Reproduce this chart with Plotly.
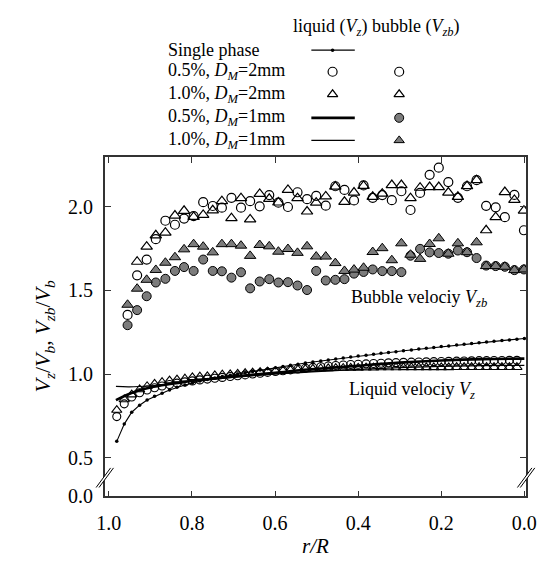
import plotly.graph_objects as go

# ---------------- data ----------------
# bubble velocity Vzb/Vb
R_BUBBLE = [0.955, 0.932, 0.909, 0.887, 0.864, 0.841, 0.819, 0.796, 0.773, 0.750,
            0.728, 0.705, 0.682, 0.660, 0.637, 0.614, 0.592, 0.569, 0.546, 0.523,
            0.501, 0.478, 0.455, 0.433, 0.410, 0.387, 0.365, 0.342, 0.319, 0.296,
            0.274, 0.251, 0.228, 0.206, 0.183, 0.160, 0.138, 0.115, 0.092, 0.069,
            0.047, 0.024, 0.001]
VZB_05_2MM = [1.353, 1.590, 1.684, 1.806, 1.916, 1.892, 1.929, 1.943, 2.027, 2.004,
              1.994, 2.053, 1.994, 2.033, 2.002, 2.069, 2.024, 1.998, 2.086, 2.045,
              2.065, 2.006, 2.122, 2.100, 2.037, 2.127, 2.053, 2.069, 2.039, 2.092,
              1.980, 2.082, 2.190, 2.233, 2.147, 2.053, 2.122, 2.158, 2.005, 1.996,
              1.937, 2.070, 1.859]
VZB_10_2MM = [None, 1.671, 1.761, 1.829, 1.845, 1.947, 1.975, 1.939, 1.951, 1.978,
              2.033, 1.931, 2.051, 1.924, 2.076, 2.047, 2.025, 2.100, 2.051, 1.971,
              2.024, 2.061, 2.120, 2.029, 2.084, 2.124, 2.059, 2.078, 2.129, 2.129,
              2.051, 2.113, 2.117, 2.117, 2.084, 2.059, 2.123, 2.158, 1.859, 1.937,
              2.087, 2.040, 1.976]
VZB_05_1MM = [1.292, 1.382, 1.465, 1.547, 1.569, 1.616, 1.639, 1.616, 1.684, 1.616,
              1.614, 1.576, 1.608, 1.512, 1.553, 1.567, 1.547, 1.549, 1.529, 1.502,
              1.616, 1.559, 1.563, 1.567, 1.600, 1.610, 1.625, 1.615, 1.615, 1.609,
              1.707, 1.748, 1.727, 1.723, 1.719, 1.738, 1.728, 1.693, 1.648, 1.645,
              1.641, 1.621, 1.625]
VZB_10_1MM = [1.414, 1.510, 1.563, 1.622, 1.665, 1.698, 1.745, 1.776, 1.761, 1.727,
              1.776, 1.776, 1.767, 1.706, 1.771, 1.763, 1.731, 1.747, 1.724, 1.763,
              1.702, 1.702, 1.663, 1.616, 1.624, 1.635, 1.729, 1.752, 1.680, 1.781,
              1.713, 1.688, 1.777, 1.811, 1.719, 1.781, 1.728, 1.787, 1.645, 1.645,
              1.641, 1.621, 1.625]

# liquid velocity Vz/Vb
R_LIQUID = [0.981, 0.963, 0.945, 0.926, 0.908, 0.890, 0.872, 0.854, 0.836, 0.817,
            0.799, 0.781, 0.763, 0.745, 0.727, 0.708, 0.690, 0.672, 0.654, 0.636,
            0.618, 0.599, 0.581, 0.563, 0.545, 0.527, 0.509, 0.490, 0.472, 0.454,
            0.436, 0.418, 0.400, 0.381, 0.363, 0.345, 0.327, 0.309, 0.291, 0.272,
            0.254, 0.236, 0.218, 0.200, 0.182, 0.163, 0.145, 0.127, 0.109, 0.091,
            0.073, 0.054, 0.036, 0.018, 0.000]
VZ_SINGLE = [0.598, 0.701, 0.772, 0.814, 0.845, 0.867, 0.886, 0.905, 0.921, 0.935,
             0.947, 0.958, 0.968, 0.977, 0.985, 0.993, 1.000, 1.008, 1.016, 1.024,
             1.031, 1.038, 1.045, 1.052, 1.059, 1.066, 1.072, 1.078, 1.084, 1.090,
             1.096, 1.102, 1.108, 1.113, 1.118, 1.124, 1.129, 1.134, 1.139, 1.144,
             1.149, 1.154, 1.159, 1.164, 1.168, 1.173, 1.178, 1.183, 1.187, 1.192,
             1.196, 1.200, 1.204, 1.208, 1.212]
VZ_05_2MM = [0.746, 0.822, 0.863, 0.888, 0.905, 0.918, 0.929, 0.938, 0.946, 0.953,
             0.959, 0.965, 0.970, 0.975, 0.980, 0.985, 0.990, 0.995, 1.000, 1.005,
             1.010, 1.015, 1.020, 1.025, 1.030, 1.035, 1.040, 1.044, 1.048, 1.051,
             1.054, 1.057, 1.059, 1.061, 1.063, 1.065, 1.067, 1.068, 1.070, 1.071,
             1.072, 1.073, 1.074, 1.075, 1.076, 1.077, 1.078, 1.079, 1.080, 1.080,
             1.081, 1.081, 1.082, 1.082]
VZ_10_2MM = [0.785, 0.848, 0.877, 0.908, 0.927, 0.941, 0.951, 0.961, 0.967, 0.972,
             0.980, 0.984, 0.986, 0.992, 0.996, 0.998, 1.001, 1.005, 1.008, 1.011,
             1.014, 1.017, 1.020, 1.023, 1.026, 1.029, 1.031, 1.033, 1.034, 1.035,
             1.036, 1.037, 1.037, 1.038, 1.038, 1.039, 1.039, 1.039, 1.040, 1.040,
             1.040, 1.040, 1.040, 1.040, 1.040, 1.041, 1.041, 1.041, 1.041, 1.041,
             1.041, 1.041, 1.041, 1.041]
R_LINE_05_1MM = [0.983, 0.960, 0.930, 0.900, 0.860, 0.820, 0.780, 0.700, 0.600, 0.520,
                 0.400, 0.300, 0.200, 0.100, 0.000]
VZ_05_1MM = [0.844, 0.872, 0.900, 0.920, 0.938, 0.952, 0.964, 0.985, 1.008, 1.027,
             1.050, 1.068, 1.081, 1.089, 1.092]
R_LINE_10_1MM = [0.983, 0.950, 0.900, 0.850, 0.800, 0.700, 0.600, 0.500, 0.400, 0.300,
                 0.200, 0.100, 0.000]
VZ_10_1MM = [0.926, 0.924, 0.930, 0.942, 0.957, 0.980, 1.000, 1.015, 1.028, 1.038,
             1.046, 1.050, 1.052]

X_TICKS = [1.0, 0.8, 0.6, 0.4, 0.2, 0.0]
X_TICKTEXT = ["1.0", "0.8", "0.6", "0.4", "0.2", "0.0"]
Y_FLOOR = 0.2695            # broken axis: bottom of the frame stands for 0.0
Y_TOP = 2.2964
Y_TICKS = [Y_FLOOR, 0.5, 1.0, 1.5, 2.0]
Y_TICKTEXT = ["0.0", "0.5", "1.0", "1.5", "2.0"]

LEGEND_LABELS = ["Single phase",
                 "0.5%, <i>D<sub>M</sub></i>=2mm",
                 "1.0%, <i>D<sub>M</sub></i>=2mm",
                 "0.5%, <i>D<sub>M</sub></i>=1mm",
                 "1.0%, <i>D<sub>M</sub></i>=1mm"]

# ---------------- geometry / styles ----------------
W, H = 546, 567
L, R, T, B = 92, 528.5, 152, 498
FONT = "Liberation Serif"
AX = "#333333"
GRAY = "#7c7c7c"

open_circle = dict(symbol="circle-open", size=9, color="black", line=dict(width=1.2, color="black"))
open_tri = dict(symbol="triangle-up-open", size=10, color="black", line=dict(width=1.2, color="black"))
gray_circle = dict(symbol="circle", size=9, color=GRAY, line=dict(width=1, color="black"))
gray_tri = dict(symbol="triangle-up", size=10, color=GRAY, line=dict(width=1, color="black"))
liq_circle = dict(symbol="circle-open", size=8, color="black", line=dict(width=1.1, color="black"))
liq_tri = dict(symbol="triangle-up-open", size=9, color="black", line=dict(width=1.1, color="black"))
dot = dict(symbol="circle", size=3.5, color="black")

fig = go.Figure()

# liquid velocity
fig.add_trace(go.Scatter(x=R_LIQUID[:len(VZ_10_2MM)], y=VZ_10_2MM, mode="markers", marker=liq_tri))
fig.add_trace(go.Scatter(x=R_LIQUID[:len(VZ_05_2MM)], y=VZ_05_2MM, mode="markers", marker=liq_circle))
fig.add_trace(go.Scatter(x=R_LINE_10_1MM, y=VZ_10_1MM, mode="lines",
                         line=dict(color="black", width=1.2, shape="spline")))
fig.add_trace(go.Scatter(x=R_LINE_05_1MM, y=VZ_05_1MM, mode="lines",
                         line=dict(color="black", width=2.6, shape="spline")))
fig.add_trace(go.Scatter(x=R_LIQUID, y=VZ_SINGLE, mode="lines+markers",
                         line=dict(color="black", width=1.1), marker=dot))

# bubble velocity
fig.add_trace(go.Scatter(x=R_BUBBLE, y=VZB_05_2MM, mode="markers", marker=open_circle))
fig.add_trace(go.Scatter(x=R_BUBBLE, y=VZB_10_2MM, mode="markers", marker=open_tri))
fig.add_trace(go.Scatter(x=R_BUBBLE, y=VZB_05_1MM, mode="markers", marker=gray_circle))
fig.add_trace(go.Scatter(x=R_BUBBLE, y=VZB_10_1MM, mode="markers", marker=gray_tri))

# ---------------- custom legend (pixel overlay axes x2/y2) ----------------
ROW_Y = [43, 65, 88, 112, 135]
LIQ_X, BUB_X = 328, 397
LINE_X0, LINE_X1 = 306, 351
lk = dict(xaxis="x2", yaxis="y2", hoverinfo="skip")
fig.add_trace(go.Scatter(x=[LINE_X0, LINE_X1], y=[ROW_Y[0]] * 2, mode="lines",
                         line=dict(color="black", width=1.1), **lk))
fig.add_trace(go.Scatter(x=[LIQ_X], y=[ROW_Y[0]], mode="markers", marker=dot, **lk))
fig.add_trace(go.Scatter(x=[LIQ_X, BUB_X], y=[ROW_Y[1]] * 2, mode="markers", marker=open_circle, **lk))
fig.add_trace(go.Scatter(x=[LIQ_X, BUB_X], y=[ROW_Y[2]] * 2, mode="markers",
                         marker=dict(open_tri, size=9), **lk))
fig.add_trace(go.Scatter(x=[LINE_X0, LINE_X1], y=[ROW_Y[3]] * 2, mode="lines",
                         line=dict(color="black", width=2.6), **lk))
fig.add_trace(go.Scatter(x=[BUB_X], y=[ROW_Y[3]], mode="markers", marker=gray_circle, **lk))
fig.add_trace(go.Scatter(x=[LINE_X0, LINE_X1], y=[ROW_Y[4]] * 2, mode="lines",
                         line=dict(color="black", width=1.2), **lk))
fig.add_trace(go.Scatter(x=[BUB_X], y=[ROW_Y[4]], mode="markers", marker=dict(gray_tri, size=9), **lk))

ann = []
ann.append(dict(x=285, y=20, text="liquid (<i>V<sub>z</sub></i>) bubble (<i>V<sub>zb</sub></i>)",
                xanchor="left", yanchor="middle", font=dict(size=18)))
for lab, yy in zip(LEGEND_LABELS, ROW_Y):
    ann.append(dict(x=155, y=yy, text=lab, xanchor="left", yanchor="middle", font=dict(size=18)))
ann.append(dict(x=345, y=296, text="Bubble velociy <i>V<sub>zb</sub></i>",
                xanchor="left", yanchor="middle", font=dict(size=18)))
ann.append(dict(x=343, y=390, text="Liquid velociy <i>V<sub>z</sub></i>",
                xanchor="left", yanchor="middle", font=dict(size=18)))
ann.append(dict(x=29, y=335, textangle=-90,
                text="<i>V<sub>z</sub></i>/<i>V<sub>b</sub></i>, <i>V<sub>zb</sub></i>/<i>V<sub>b</sub></i>",
                xanchor="center", yanchor="middle", font=dict(size=22)))
ann.append(dict(x=310, y=549, text="<i>r/R</i>", xanchor="center", yanchor="middle",
                font=dict(size=21)))
for a in ann:
    a.update(xref="x2", yref="y2", showarrow=False)

# axis-break marks (double slashes) on left and right spines
shapes = []
for cx in (L, R):
    x0, y0 = cx - 9, 489
    path = f"M {x0} {y0} L {x0+15} {y0-20} L {x0+18} {y0-20} L {x0+3} {y0} Z"
    shapes.append(dict(type="path", path=path, xref="x2", yref="y2",
                       fillcolor="white", line=dict(width=0), layer="above"))
    for off in (0, 3):
        shapes.append(dict(type="line", xref="x2", yref="y2",
                           x0=x0 + off, y0=y0, x1=x0 + off + 15, y1=y0 - 20,
                           line=dict(color="black", width=1), layer="above"))

axis_common = dict(showgrid=False, zeroline=False, showline=True, linecolor=AX, linewidth=1.5,
                   mirror="allticks", ticks="inside", ticklen=6, tickwidth=1.2, tickcolor=AX,
                   tickfont=dict(size=20, color="black", family=FONT))

fig.update_layout(
    width=W, height=H,
    margin=dict(l=0, r=0, t=0, b=0),
    paper_bgcolor="white", plot_bgcolor="rgba(0,0,0,0)",
    showlegend=False,
    font=dict(family=FONT, color="black"),
    xaxis=dict(axis_common, domain=[L / W, R / W], range=[1.0098, -0.0042], anchor="y",
               tickvals=X_TICKS, ticktext=X_TICKTEXT, ticklabelstandoff=8),
    yaxis=dict(axis_common, domain=[(H - B) / H, (H - T) / H], range=[Y_FLOOR, Y_TOP], anchor="x",
               tickvals=Y_TICKS, ticktext=Y_TICKTEXT, ticklabelstandoff=6),
    xaxis2=dict(domain=[0, 1], range=[0, W], anchor="y2", visible=False, fixedrange=True),
    yaxis2=dict(domain=[0, 1], range=[H, 0], anchor="x2", visible=False, fixedrange=True),
    annotations=ann,
    shapes=shapes,
)

fig.write_html("out.html")
